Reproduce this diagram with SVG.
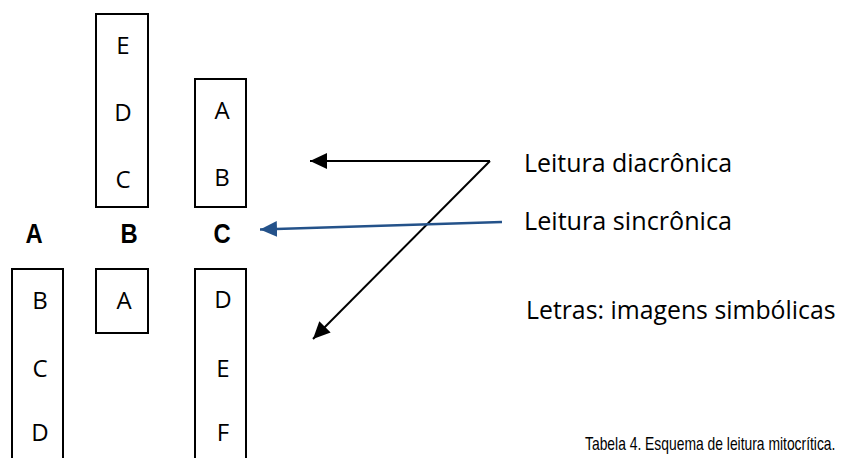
<svg xmlns="http://www.w3.org/2000/svg" width="841" height="458" viewBox="0 0 841 458">
  <style>
    .box { fill: #ffffff; stroke: #000000; stroke-width: 2; }
    .cell { font-family: "Open Sans", "Noto Sans", sans-serif; font-size: 24px; fill: #000000; text-anchor: middle; }
    .head { font-family: "Liberation Sans Narrow", "Liberation Sans", sans-serif; font-size: 28px; font-weight: bold; fill: #000000; text-anchor: middle; }
    .label { font-family: "Open Sans", "Noto Sans", sans-serif; font-size: 26px; fill: #000000; }
    .caption { font-family: "Liberation Sans", sans-serif; font-size: 19px; fill: #000000; }
    .arrow-black { stroke: #000000; stroke-width: 2; fill: none; }
    .arrow-blue { stroke: #24528a; stroke-width: 2.5; fill: none; }
  </style>
  <defs>
    <marker id="headBlack" markerUnits="userSpaceOnUse" markerWidth="18" markerHeight="17" refX="17" refY="8" orient="auto">
      <path d="M0,0 L17,8 L0,16 Z" fill="#000000"/>
    </marker>
    <marker id="headBlue" markerUnits="userSpaceOnUse" markerWidth="18" markerHeight="17" refX="17" refY="8" orient="auto">
      <path d="M0,0 L17,8 L0,16 Z" fill="#24528a"/>
    </marker>
  </defs>

  <rect width="841" height="458" fill="#ffffff"/>

  <!-- column headings (condensed bold) -->
  <g id="heading-A"><text class="head" transform="translate(34,243) scale(0.85,1)">A</text></g>
  <g id="heading-B"><text class="head" transform="translate(129,243) scale(0.85,1)">B</text></g>
  <g id="heading-C"><text class="head" transform="translate(222,243) scale(0.85,1)">C</text></g>

  <!-- upper stacks -->
  <g id="stack-B-top">
    <rect class="box" x="96" y="14" width="52" height="193"/>
    <text class="cell" x="123" y="54">E</text>
    <text class="cell" x="123" y="121">D</text>
    <text class="cell" x="123" y="188">C</text>
  </g>
  <g id="stack-C-top">
    <rect class="box" x="195" y="79" width="51" height="128"/>
    <text class="cell" x="222" y="119">A</text>
    <text class="cell" x="222" y="186">B</text>
  </g>

  <!-- lower stacks -->
  <g id="stack-A-bottom">
    <rect class="box" x="12" y="269" width="51" height="200"/>
    <text class="cell" x="40" y="309">B</text>
    <text class="cell" x="40" y="377">C</text>
    <text class="cell" x="40" y="441">D</text>
  </g>
  <g id="stack-B-bottom">
    <rect class="box" x="96" y="269" width="52" height="64"/>
    <text class="cell" x="124" y="309">A</text>
  </g>
  <g id="stack-C-bottom">
    <rect class="box" x="195" y="269" width="51" height="200"/>
    <text class="cell" x="223" y="308">D</text>
    <text class="cell" x="223" y="377">E</text>
    <text class="cell" x="223" y="441">F</text>
  </g>

  <!-- reading directions -->
  <g id="connectors">
    <line class="arrow-black" x1="490" y1="161" x2="310" y2="161" marker-end="url(#headBlack)"/>
    <line class="arrow-black" x1="490" y1="161" x2="313" y2="339" marker-end="url(#headBlack)"/>
    <line class="arrow-blue" x1="502" y1="222" x2="260" y2="229.5" marker-end="url(#headBlue)"/>
  </g>

  <!-- legend -->
  <g id="legend-diacronica"><text class="label" x="524" y="172" textLength="208" lengthAdjust="spacingAndGlyphs">Leitura diacrônica</text></g>
  <g id="legend-sincronica"><text class="label" x="524" y="230" textLength="208" lengthAdjust="spacingAndGlyphs">Leitura sincrônica</text></g>
  <g id="legend-letras"><text class="label" transform="translate(526,319) scale(0.955,1)" font-size="25.5">Letras: imagens simbólicas</text></g>

  <!-- caption, horizontally condensed -->
  <g id="caption"><text class="caption" transform="translate(585,450) scale(0.73,1)">Tabela 4. Esquema de leitura mitocrítica.</text></g>
</svg>
